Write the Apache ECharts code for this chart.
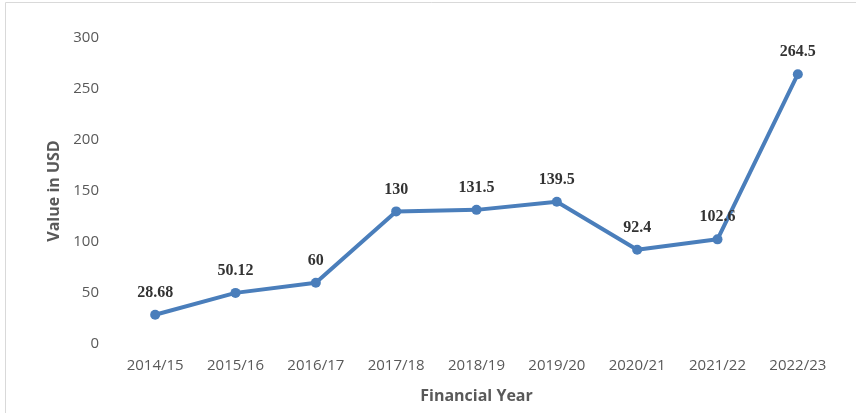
<!DOCTYPE html>
<html>
<head>
<meta charset="utf-8">
<script src="https://cdn.jsdelivr.net/npm/echarts@6/dist/echarts.min.js"></script>
<style>
  html, body { margin: 0; padding: 0; background: #fff; }
  #chart { width: 856px; height: 413px; }
</style>
</head>
<body>
<div id="chart"></div>
<script>
const years = ['2014/15', '2015/16', '2016/17', '2017/18', '2018/19', '2019/20', '2020/21', '2021/22', '2022/23']
const values = [28.68, 50.12, 60, 130, 131.5, 139.5, 92.4, 102.6, 264.5]
const valueLabels = ['28.68', '50.12', '60', '130', '131.5', '139.5', '92.4', '102.6', '264.5']

const chart = echarts.init(document.getElementById('chart'))

chart.setOption({
  animation: false,
  graphic: [{
    type: 'rect',
    shape: { x: 5.5, y: 2.5, width: 900, height: 500 },
    style: { fill: 'none', stroke: '#d9d9d9', lineWidth: 1 }
  }],
  grid: { left: 115, top: 38, width: 723, height: 306 },
  xAxis: {
    type: 'category',
    data: years,
    name: 'Financial Year',
    nameLocation: 'middle',
    nameGap: 44,
    nameTextStyle: { fontFamily: 'Open Sans', fontWeight: 'bold', fontSize: 16, color: '#595959' },
    axisLine: { show: false },
    axisTick: { show: false },
    axisLabel: { fontFamily: 'Open Sans', fontSize: 15, color: '#595959', margin: 14 }
  },
  yAxis: {
    type: 'value',
    min: 0,
    max: 300,
    interval: 50,
    name: 'Value in USD',
    nameLocation: 'middle',
    nameGap: 47,
    nameTextStyle: { fontFamily: 'Open Sans', fontWeight: 'bold', fontSize: 16, color: '#595959' },
    axisLine: { show: false },
    axisTick: { show: false },
    splitLine: { show: false },
    axisLabel: { fontFamily: 'Open Sans', fontSize: 15, color: '#595959', margin: 16 }
  },
  series: [{
    type: 'line',
    data: values,
    symbol: 'circle',
    symbolSize: 10,
    lineStyle: { color: '#4a7ebb', width: 4 },
    itemStyle: { color: '#4a7ebb' },
    label: {
      show: true,
      position: 'top',
      distance: 9,
      fontFamily: 'Liberation Serif',
      fontWeight: 'bold',
      fontSize: 16,
      color: '#333333',
      formatter: p => valueLabels[p.dataIndex]
    }
  }]
})
</script>
</body>
</html>
